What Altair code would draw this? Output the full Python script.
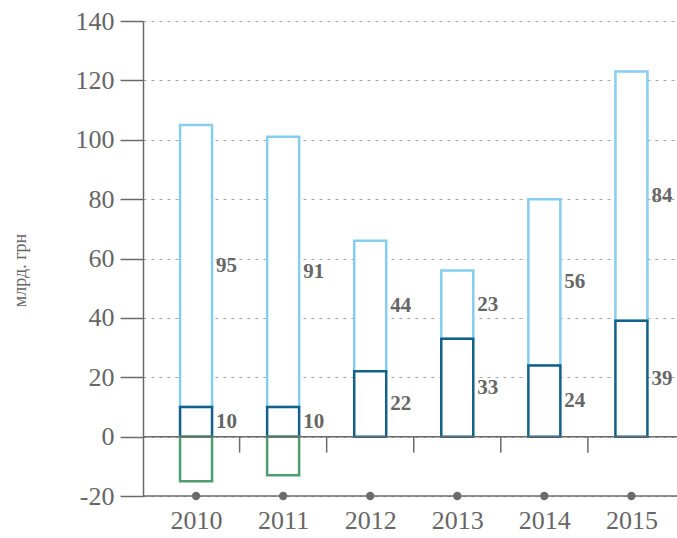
import altair as alt
import pandas as pd

# Values, bn UAH
years = [2010, 2011, 2012, 2013, 2014, 2015]
base = [10, 10, 22, 33, 24, 39]        # dark-blue segment from zero
upper = [95, 91, 44, 23, 56, 84]       # light-blue segment stacked on top
negative = [-15, -13, 0, 0, 0, 0]      # green segment below zero
y_ticks = [-20, 0, 20, 40, 60, 80, 100, 120, 140]

GRAY = "#6b6b6b"
TEXT = "#666666"
SERIF = "'Times New Roman', 'Liberation Serif', Times, serif"

rows = []
for yr, b, u in zip(years, base, upper):
    rows.append({"year": yr, "series": "upper", "lo": b, "hi": b + u, "label": u})
for yr, b in zip(years, base):
    rows.append({"year": yr, "series": "base", "lo": 0, "hi": b, "label": b})
for yr, n in zip(years, negative):
    if n < 0:
        rows.append({"year": yr, "series": "negative", "lo": n, "hi": 0, "label": None})
segments = pd.DataFrame(rows)

boundaries = pd.DataFrame({"b": [y + 0.5 for y in years[:-1]]})
baselines = pd.DataFrame({"v": [y_ticks[0], 0]})
points = pd.DataFrame({"year": years})

x_scale = alt.Scale(domain=[years[0] - 0.552, years[-1] + 0.466], nice=False, zero=False)
y_scale = alt.Scale(domain=[y_ticks[0], y_ticks[-1]], nice=False, zero=False)

x_axis = alt.Axis(
    values=years, labelExpr="'' + datum.value", title=None, ticks=False,
    domain=False, grid=False,
    labelFont=SERIF, labelFontSize=26, labelColor=TEXT, labelPadding=11,
)
y_axis = alt.Axis(
    values=y_ticks, labelExpr="'' + datum.value", title="млрд. грн",
    tickSize=23, tickColor=GRAY, tickWidth=1.5,
    domainColor=GRAY, domainWidth=1.5, labelFont=SERIF, labelFontSize=26,
    labelColor=TEXT, labelPadding=6, grid=True, gridColor="#a8a8a8",
    gridDash=[3, 5], gridWidth=1,
    titleFont=SERIF, titleFontSize=18, titleFontWeight="normal", titleColor=TEXT,
    titleAngle=270, titleAlign="center", titleBaseline="middle",
    titleX=-123, titleY=249,
)

bars = alt.Chart(segments).mark_bar(fill="white", strokeWidth=2.5, size=32).encode(
    x=alt.X("year:Q", scale=x_scale, axis=x_axis),
    y=alt.Y("lo:Q", scale=y_scale, axis=y_axis),
    y2="hi:Q",
    stroke=alt.Stroke(
        "series:N",
        scale=alt.Scale(domain=["upper", "base", "negative"],
                        range=["#86cdef", "#13608a", "#4e9d70"]),
        legend=None,
    ),
)

labels = alt.Chart(segments).transform_filter(
    alt.datum.series != "negative"
).transform_calculate(
    mid="(datum.lo + datum.hi) / 2"
).mark_text(
    align="left", baseline="middle", dx=20, font=SERIF, fontWeight="bold",
    fontSize=21, color=TEXT,
).encode(
    x="year:Q", y="mid:Q", text="label:Q",
)

lines = alt.Chart(baselines).mark_rule(color=GRAY, strokeWidth=1.5).encode(
    y="v:Q"
)

band_ticks = alt.Chart(boundaries).mark_rule(
    color=GRAY, strokeWidth=1.5, y2Offset=16
).encode(
    x="b:Q", y=alt.datum(0), y2=alt.datum(0)
)

dots = alt.Chart(points).mark_circle(size=70, color=GRAY, opacity=1).encode(
    x="year:Q", y=alt.datum(y_ticks[0])
)

chart = alt.layer(bars, lines, band_ticks, labels, dots).properties(
    width=534,
    height=475,
    autosize=alt.AutoSizeParams(type="none"),
    padding={"left": 143, "top": 21, "right": 0, "bottom": 42},
    background="white",
).configure_view(stroke=None)

chart.save("out.html", embed_options={"renderer": "svg", "actions": False})
